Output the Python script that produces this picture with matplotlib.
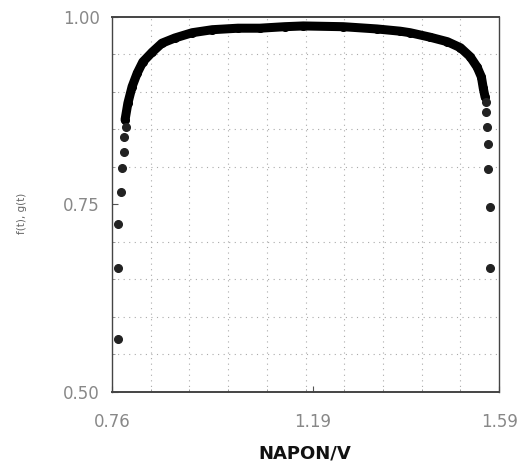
import matplotlib
matplotlib.use("Agg")
import matplotlib.pyplot as plt
from matplotlib.ticker import FixedLocator

# === DATA ===

# dense part of the curve (markers overlap into a thick band)
dense_v = [0.788, 0.794, 0.803, 0.814, 0.826, 0.846, 0.867, 0.895, 0.932, 0.975,
           1.030, 1.077, 1.130, 1.170, 1.256, 1.328, 1.378, 1.399, 1.442, 1.479,
           1.507, 1.528, 1.543, 1.552, 1.556, 1.560]
dense_f = [0.863, 0.885, 0.907, 0.925, 0.940, 0.953, 0.965, 0.972, 0.979, 0.983,
           0.985, 0.985, 0.987, 0.988, 0.987, 0.984, 0.981, 0.979, 0.973, 0.967,
           0.959, 0.947, 0.933, 0.920, 0.905, 0.893]

# sparse points at both ends
left_v = [0.773, 0.773, 0.773, 0.779, 0.781, 0.786, 0.786, 0.790]
left_f = [0.571, 0.665, 0.724, 0.767, 0.799, 0.820, 0.840, 0.853]
right_v = [1.561, 1.562, 1.564, 1.567, 1.567, 1.571, 1.571]
right_f = [0.887, 0.873, 0.853, 0.831, 0.797, 0.747, 0.665]

x_ticks = [0.76, 1.19, 1.59]
x_tick_labels = ["0.76", "1.19", "1.59"]
y_ticks = [0.50, 0.75, 1.00]
y_tick_labels = ["0.50", "0.75", "1.00"]

X_MIN, X_MAX = 0.76, 1.59
Y_MIN, Y_MAX = 0.50, 1.00

# === PLOT ===

fig = plt.figure(figsize=(5.21, 4.71), dpi=100)
ax = fig.add_axes([0.215, 0.168, 0.743, 0.796])

ax.plot(dense_v, dense_f, "-o", color="black", lw=6.5, ms=5.5,
        solid_capstyle="round")
ax.plot(left_v, left_f, "o", color="#222222", ms=5.5)
ax.plot(right_v, right_f, "o", color="#222222", ms=5.5)

ax.set_xlim(X_MIN, X_MAX)
ax.set_ylim(Y_MIN, Y_MAX)

# dotted grid at 10 divisions each way
x_grid = [X_MIN + i * (X_MAX - X_MIN) / 10 for i in range(1, 10)]
y_grid = [Y_MIN + i * (Y_MAX - Y_MIN) / 10 for i in range(1, 10)]
ax.xaxis.set_minor_locator(FixedLocator(x_grid))
ax.yaxis.set_minor_locator(FixedLocator(y_grid))
ax.grid(which="minor", color="#aaaaaa", linestyle=(0, (1, 4)), lw=0.8)

ax.set_xticks(x_ticks)
ax.set_xticklabels(x_tick_labels)
ax.set_yticks(y_ticks)
ax.set_yticklabels(y_tick_labels)
ax.tick_params(which="major", direction="in", length=4, color="#555555",
               labelsize=12, labelcolor="#888888")
ax.tick_params(axis="x", which="major", pad=15)
ax.tick_params(axis="y", which="major", pad=9)
ax.tick_params(which="minor", direction="in", length=2, color="#888888")

for side in ax.spines.values():
    side.set_color("#444444")
    side.set_linewidth(1.0)
ax.spines["top"].set_linewidth(1.4)
ax.spines["bottom"].set_linewidth(1.4)

fig.text(0.043, 0.548, "f(t), g(t)", rotation=90, ha="center", va="center",
         fontsize=7.5, color="#666666")
fig.text(0.585, 0.017, "NAPON/V", ha="center", va="bottom",
         fontsize=13, fontweight="bold", color="#111111")

fig.savefig("out.png", dpi=100)
